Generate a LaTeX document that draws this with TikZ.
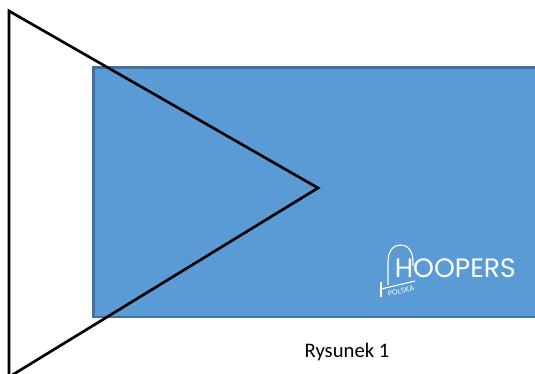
\documentclass[tikz,border=0pt]{standalone}
\usepackage{fontspec}
\setmainfont{Carlito}
\newfontfamily\logofont{Poppins}
\definecolor{panelblue}{RGB}{91,155,213}
\definecolor{paneledge}{RGB}{65,113,156}
\tikzset{
    logoline/.style={white,line width=0.8pt},
    logotext/.style={white,inner sep=0pt,font=\logofont}
}
\begin{document}
\begin{tikzpicture}[x=0.025cm,y=-0.025cm]

    \useasboundingbox (0,0) rectangle (535,374);
    \clip (0,0) rectangle (535,374);

    %draw panel
    \draw[fill=panelblue,draw=paneledge,line width=1.5pt] (93.5,67.5) rectangle (540,317);

    %draw triangle
    \draw[black,line width=1.9pt,line join=miter] (9,11) -- (318,188) -- (9,377) -- cycle;

    %draw logo
    \draw[logoline] (388,285) -- (388,262) .. controls (388,250) and (394,245) .. (400.5,245) .. controls (407,245) and (413,250) .. (413,262) -- (413,266);
    \draw[logoline] (381,282) -- (381,297);
    \draw[logoline] (381,289) -- (415,281);
    \node[logotext,font=\logofont\fontsize{18.9pt}{18.9pt}\selectfont,anchor=west] (brand) at (394.5,268) {HOOPERS};
    \node[logotext,font=\logofont\fontsize{5.2pt}{5.2pt}\selectfont,rotate=13] (country) at (401,291) {POLSKA};

    %draw caption
    \node[inner sep=0pt,font=\fontsize{14.7pt}{14.7pt}\selectfont] (caption) at (347,352) {Rysunek 1};

\end{tikzpicture}
\end{document}
